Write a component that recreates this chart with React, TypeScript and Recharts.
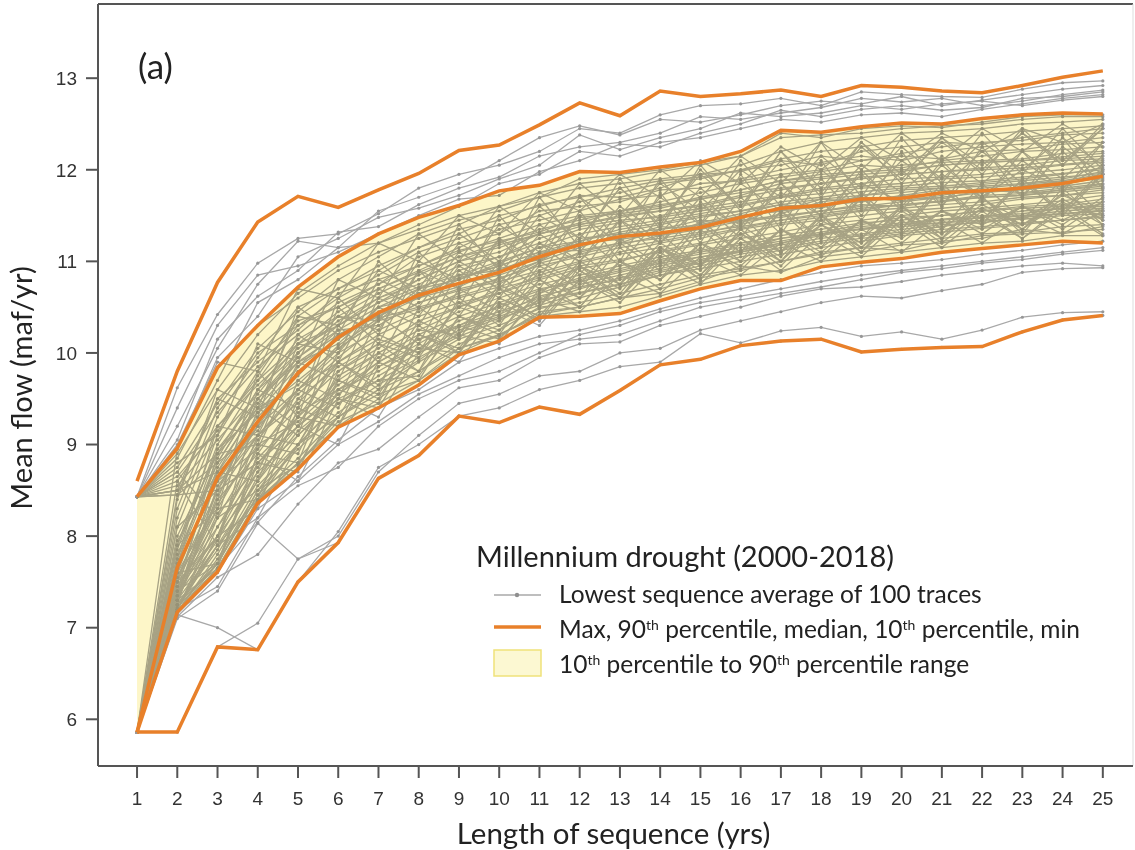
import React from "react";
import {
  ComposedChart,
  Line,
  Area,
  XAxis,
  YAxis,
  ReferenceLine,
  Legend,
} from "recharts";

// length of sequence (yrs)
const years = [1, 2, 3, 4, 5, 6, 7, 8, 9, 10, 11, 12, 13, 14, 15, 16, 17, 18, 19, 20, 21, 22, 23, 24, 25];
const yTicks = [6, 7, 8, 9, 10, 11, 12, 13];

// orange summary lines
const maxLine = [8.6, 9.8, 10.77, 11.43, 11.71, 11.59, 11.78, 11.96, 12.21, 12.27, 12.49, 12.73, 12.59, 12.86, 12.8, 12.83, 12.87, 12.8, 12.92, 12.9, 12.86, 12.84, 12.92, 13.01, 13.08];
const p90Line = [8.43, 8.96, 9.84, 10.3, 10.72, 11.05, 11.3, 11.48, 11.61, 11.77, 11.83, 11.98, 11.97, 12.03, 12.08, 12.2, 12.43, 12.41, 12.47, 12.51, 12.5, 12.56, 12.6, 12.62, 12.61];
const medianLine = [5.86, 7.66, 8.64, 9.25, 9.78, 10.17, 10.44, 10.63, 10.76, 10.88, 11.05, 11.18, 11.27, 11.31, 11.37, 11.48, 11.58, 11.61, 11.68, 11.69, 11.75, 11.77, 11.8, 11.85, 11.93];
const p10Line = [5.86, 7.17, 7.61, 8.36, 8.73, 9.19, 9.4, 9.65, 9.98, 10.13, 10.39, 10.4, 10.43, 10.57, 10.7, 10.79, 10.79, 10.94, 10.99, 11.03, 11.1, 11.14, 11.18, 11.22, 11.2];
const minLine = [5.86, 5.86, 6.79, 6.76, 7.5, 7.93, 8.63, 8.88, 9.31, 9.24, 9.41, 9.33, 9.59, 9.87, 9.93, 10.08, 10.13, 10.15, 10.01, 10.04, 10.06, 10.07, 10.23, 10.36, 10.41];

// lowest sequence average, one row per trace (estimated off the figure)
const traces = [
  [8.43, 9.62, 10.42, 10.98, 11.25, 11.3, 11.52, 11.8, 11.95, 12.05, 12.2, 12.45, 12.4, 12.6, 12.7, 12.72, 12.78, 12.7, 12.85, 12.82, 12.8, 12.79, 12.88, 12.95, 12.97],
  [8.43, 9.2, 10.05, 10.75, 11.22, 11.15, 11.55, 11.7, 11.85, 12.1, 12.35, 12.48, 12.38, 12.55, 12.52, 12.6, 12.7, 12.75, 12.72, 12.8, 12.7, 12.76, 12.82, 12.88, 12.92],
  [8.43, 9.05, 10.15, 10.62, 10.9, 11.32, 11.38, 11.62, 11.8, 11.92, 12.15, 12.25, 12.3, 12.4, 12.58, 12.55, 12.62, 12.68, 12.78, 12.74, 12.78, 12.7, 12.75, 12.82, 12.87],
  [5.86, 8.95, 9.95, 10.4, 11.05, 11.25, 11.48, 11.58, 11.72, 11.9, 12.05, 12.38, 12.22, 12.35, 12.45, 12.62, 12.58, 12.62, 12.7, 12.66, 12.72, 12.75, 12.7, 12.76, 12.8],
  [8.43, 9.4, 10.3, 10.85, 10.95, 11.1, 11.3, 11.5, 11.68, 11.72, 11.98, 12.1, 12.28, 12.25, 12.4, 12.5, 12.65, 12.58, 12.66, 12.7, 12.65, 12.68, 12.78, 12.8, 12.85],
  [8.43, 8.85, 9.7, 10.55, 10.8, 11.15, 11.2, 11.4, 11.6, 11.85, 11.95, 12.2, 12.15, 12.3, 12.35, 12.45, 12.55, 12.52, 12.6, 12.62, 12.58, 12.66, 12.72, 12.78, 12.82],
  [8.43, 8.9, 9.6, 10.2, 10.65, 10.95, 11.2, 11.35, 11.5, 11.6, 11.75, 11.85, 11.9, 11.98, 12.05, 12.15, 12.35, 12.38, 12.4, 12.45, 12.48, 12.5, 12.55, 12.58, 12.58],
  [8.43, 8.75, 9.45, 10.05, 10.45, 10.8, 11.05, 11.3, 11.45, 11.55, 11.7, 11.8, 11.85, 11.9, 11.95, 12.05, 12.2, 12.3, 12.35, 12.4, 12.42, 12.45, 12.5, 12.52, 12.55],
  [5.86, 8.2, 9.3, 9.95, 10.5, 10.7, 10.95, 11.15, 11.3, 11.5, 11.6, 11.72, 11.7, 11.8, 11.95, 11.98, 12.1, 12.05, 12.2, 12.25, 12.3, 12.28, 12.35, 12.4, 12.45],
  [8.43, 8.6, 9.2, 9.7, 10.3, 10.6, 10.85, 11.1, 11.25, 11.4, 11.5, 11.65, 11.75, 11.85, 11.9, 12.0, 12.05, 12.15, 12.1, 12.18, 12.25, 12.3, 12.32, 12.38, 12.4],
  [5.86, 7.9, 9.1, 9.8, 10.35, 10.5, 10.75, 11.05, 11.2, 11.3, 11.55, 11.6, 11.65, 11.78, 11.8, 11.9, 12.0, 12.08, 12.15, 12.1, 12.2, 12.25, 12.28, 12.3, 12.35],
  [5.86, 8.45, 9.5, 9.9, 10.25, 10.65, 10.8, 10.95, 11.15, 11.35, 11.45, 11.55, 11.68, 11.72, 11.85, 11.88, 11.95, 12.0, 12.1, 12.15, 12.12, 12.2, 12.22, 12.28, 12.3],
  [8.43, 8.55, 9.05, 9.55, 10.1, 10.45, 10.7, 10.9, 11.1, 11.25, 11.4, 11.5, 11.55, 11.65, 11.75, 11.85, 11.92, 11.98, 12.05, 12.02, 12.1, 12.15, 12.2, 12.22, 12.25],
  [5.86, 7.75, 8.85, 9.6, 10.15, 10.4, 10.65, 10.85, 11.05, 11.2, 11.35, 11.45, 11.55, 11.6, 11.7, 11.78, 11.88, 11.95, 11.98, 12.05, 12.08, 12.1, 12.12, 12.18, 12.2],
  [5.86, 8.1, 9.2, 9.65, 10.05, 10.3, 10.55, 10.8, 11.0, 11.18, 11.3, 11.4, 11.48, 11.55, 11.62, 11.72, 11.85, 11.9, 11.95, 11.98, 12.05, 12.08, 12.1, 12.12, 12.15],
  [8.43, 8.7, 9.35, 9.85, 10.2, 10.55, 10.75, 10.95, 11.12, 11.22, 11.32, 11.48, 11.52, 11.58, 11.68, 11.75, 11.8, 11.85, 11.92, 11.95, 11.98, 12.02, 12.05, 12.1, 12.12],
  [5.86, 7.6, 8.7, 9.45, 9.95, 10.25, 10.5, 10.7, 10.9, 11.05, 11.2, 11.35, 11.42, 11.5, 11.58, 11.65, 11.72, 11.8, 11.85, 11.9, 11.92, 11.95, 12.0, 12.05, 12.08],
  [5.86, 7.7, 8.95, 9.5, 9.9, 10.2, 10.4, 10.6, 10.8, 10.98, 11.15, 11.3, 11.38, 11.45, 11.52, 11.6, 11.7, 11.78, 11.82, 11.85, 11.9, 11.92, 11.96, 12.0, 12.05],
  [5.86, 7.55, 8.5, 9.35, 9.7, 10.05, 10.35, 10.7, 10.8, 10.95, 11.1, 11.12, 11.2, 11.35, 11.4, 11.45, 11.5, 11.55, 11.6, 11.65, 11.7, 11.75, 11.78, 11.82, 11.88],
  [5.86, 7.8, 8.8, 9.15, 9.85, 10.25, 10.3, 10.55, 10.7, 10.8, 11.0, 11.25, 11.3, 11.28, 11.42, 11.52, 11.62, 11.58, 11.72, 11.75, 11.8, 11.82, 11.85, 11.9, 11.98],
  [5.86, 7.4, 8.3, 9.05, 9.6, 10.0, 10.25, 10.45, 10.65, 10.82, 10.95, 11.05, 11.15, 11.22, 11.3, 11.4, 11.52, 11.65, 11.7, 11.66, 11.72, 11.8, 11.84, 11.88, 11.95],
  [8.43, 8.5, 8.9, 9.4, 9.9, 10.1, 10.5, 10.6, 10.85, 10.9, 11.08, 11.2, 11.25, 11.38, 11.35, 11.5, 11.55, 11.68, 11.65, 11.72, 11.78, 11.75, 11.82, 11.87, 11.9],
  [5.86, 7.95, 8.7, 9.3, 9.75, 10.2, 10.4, 10.65, 10.75, 10.85, 11.0, 11.15, 11.3, 11.35, 11.45, 11.42, 11.6, 11.62, 11.65, 11.7, 11.68, 11.78, 11.75, 11.8, 11.85],
  [5.86, 7.3, 8.45, 9.1, 9.55, 9.95, 10.3, 10.55, 10.68, 10.78, 10.9, 11.1, 11.2, 11.25, 11.32, 11.38, 11.45, 11.52, 11.58, 11.62, 11.65, 11.7, 11.72, 11.76, 11.8],
  [5.86, 7.65, 8.6, 9.2, 9.8, 10.15, 10.45, 10.6, 10.72, 10.92, 11.02, 11.2, 11.24, 11.3, 11.4, 11.5, 11.55, 11.6, 11.66, 11.71, 11.74, 11.76, 11.79, 11.84, 11.92],
  [5.86, 7.5, 8.75, 9.4, 9.65, 10.08, 10.38, 10.5, 10.62, 10.75, 10.98, 11.08, 11.18, 11.28, 11.35, 11.44, 11.48, 11.55, 11.62, 11.6, 11.66, 11.72, 11.74, 11.78, 11.82],
  [5.86, 7.2, 8.1, 8.85, 9.3, 9.7, 10.0, 10.25, 10.45, 10.6, 10.75, 10.85, 10.95, 11.05, 11.12, 11.2, 11.28, 11.35, 11.42, 11.45, 11.5, 11.55, 11.6, 11.62, 11.68],
  [5.86, 7.35, 7.95, 8.7, 9.1, 9.55, 9.85, 10.1, 10.35, 10.5, 10.65, 10.8, 10.9, 11.0, 11.08, 11.15, 11.22, 11.3, 11.38, 11.42, 11.46, 11.5, 11.52, 11.58, 11.62],
  [5.86, 7.17, 7.8, 8.55, 9.0, 9.45, 9.75, 10.0, 10.25, 10.4, 10.55, 10.7, 10.82, 10.92, 11.02, 11.1, 11.18, 11.25, 11.3, 11.35, 11.4, 11.42, 11.48, 11.52, 11.55],
  [5.86, 7.45, 8.2, 8.95, 9.4, 9.8, 10.05, 10.35, 10.5, 10.7, 10.82, 10.95, 11.02, 11.1, 11.18, 11.25, 11.32, 11.4, 11.45, 11.5, 11.55, 11.58, 11.62, 11.66, 11.72],
  [5.86, 7.25, 7.7, 8.45, 8.85, 9.3, 9.6, 9.9, 10.15, 10.3, 10.48, 10.6, 10.72, 10.85, 10.95, 11.05, 11.12, 11.2, 11.25, 11.3, 11.35, 11.38, 11.42, 11.45, 11.48],
  [5.86, 7.6, 8.35, 9.0, 9.25, 9.65, 9.95, 10.2, 10.4, 10.55, 10.7, 10.78, 10.88, 10.98, 11.05, 11.12, 11.2, 11.28, 11.36, 11.4, 11.45, 11.48, 11.55, 11.58, 11.6],
  [5.86, 7.18, 7.65, 8.4, 8.8, 9.2, 9.5, 9.8, 10.05, 10.2, 10.42, 10.5, 10.6, 10.7, 10.82, 10.9, 11.0, 11.08, 11.15, 11.2, 11.25, 11.3, 11.32, 11.38, 11.4],
  [5.86, 7.4, 8.0, 8.6, 9.15, 9.5, 9.7, 9.95, 10.18, 10.35, 10.58, 10.66, 10.75, 10.88, 10.98, 11.08, 11.15, 11.22, 11.28, 11.32, 11.38, 11.44, 11.46, 11.5, 11.52],
  [8.43, 8.45, 8.5, 8.8, 9.2, 9.55, 9.9, 10.15, 10.3, 10.45, 10.6, 10.75, 10.85, 10.95, 11.05, 11.1, 11.2, 11.3, 11.35, 11.4, 11.42, 11.48, 11.5, 11.55, 11.58],
  [5.86, 7.3, 8.25, 8.75, 9.35, 9.6, 9.9, 10.15, 10.28, 10.42, 10.62, 10.72, 10.8, 10.9, 11.0, 11.12, 11.25, 11.32, 11.4, 11.48, 11.5, 11.55, 11.58, 11.6, 11.65],
  [5.86, 5.86, 6.79, 7.05, 7.75, 7.93, 8.63, 8.88, 9.31, 9.4, 9.6, 9.7, 9.85, 9.9, 10.21, 10.11, 10.24, 10.28, 10.18, 10.23, 10.15, 10.25, 10.39, 10.44, 10.45],
  [5.86, 7.14, 7.0, 6.76, 7.5, 8.05, 8.75, 9.0, 9.31, 9.24, 9.41, 9.33, 9.59, 9.87, 9.93, 10.08, 10.13, 10.15, 10.01, 10.04, 10.06, 10.07, 10.23, 10.36, 10.41],
  [5.86, 7.1, 7.4, 8.14, 7.75, 8.0, 8.7, 9.1, 9.45, 9.55, 9.75, 9.8, 10.0, 10.05, 10.25, 10.35, 10.45, 10.55, 10.62, 10.6, 10.68, 10.75, 10.88, 10.92, 10.93],
  [5.86, 7.12, 7.55, 7.8, 8.35, 8.8, 8.95, 9.3, 9.62, 9.7, 9.95, 10.1, 10.12, 10.3, 10.4, 10.5, 10.62, 10.7, 10.72, 10.78, 10.85, 10.9, 10.95, 10.98, 10.95],
  [5.86, 7.2, 7.45, 8.2, 8.55, 8.75, 9.2, 9.5, 9.7, 9.8, 10.0, 10.2, 10.3, 10.45, 10.55, 10.62, 10.7, 10.78, 10.85, 10.9, 10.95, 11.0, 11.05, 11.1, 11.15],
  [5.86, 7.15, 7.6, 8.3, 8.6, 9.0, 9.25, 9.55, 9.75, 9.95, 10.1, 10.15, 10.2, 10.35, 10.5, 10.58, 10.65, 10.72, 10.8, 10.88, 10.92, 10.98, 11.02, 11.08, 11.12],
  [5.86, 7.17, 7.65, 8.15, 8.65, 9.05, 9.4, 9.6, 9.9, 10.05, 10.18, 10.25, 10.35, 10.48, 10.6, 10.7, 10.8, 10.88, 10.95, 10.98, 11.02, 11.08, 11.12, 11.18, 11.22],
  [5.86, 8.0, 8.9, 9.6, 10.0, 10.35, 10.6, 10.8, 11.0, 11.1, 11.3, 11.4, 11.5, 11.55, 11.6, 11.7, 11.78, 11.85, 11.9, 11.95, 11.98, 12.0, 12.02, 12.06, 12.1],
  [5.86, 7.25, 8.55, 9.1, 9.45, 9.9, 10.2, 10.4, 10.55, 10.65, 10.8, 10.92, 11.0, 11.12, 11.2, 11.3, 11.4, 11.45, 11.5, 11.55, 11.58, 11.62, 11.68, 11.72, 11.75],
  [5.86, 7.85, 9.0, 9.7, 10.1, 10.3, 10.6, 10.75, 10.95, 11.05, 11.25, 11.38, 11.45, 11.48, 11.55, 11.62, 11.7, 11.74, 11.8, 11.82, 11.86, 11.88, 11.92, 11.96, 12.0],
  [8.43, 8.65, 9.15, 9.75, 10.4, 10.7, 10.9, 11.15, 11.35, 11.45, 11.62, 11.7, 11.8, 11.88, 11.92, 12.0, 12.12, 12.2, 12.25, 12.32, 12.35, 12.38, 12.42, 12.45, 12.48],
  [5.86, 7.5, 8.4, 8.9, 9.5, 9.85, 10.1, 10.3, 10.5, 10.65, 10.85, 10.98, 11.08, 11.15, 11.25, 11.35, 11.42, 11.48, 11.55, 11.58, 11.62, 11.65, 11.7, 11.72, 11.78],
  [5.86, 7.2, 8.0, 8.8, 9.2, 9.6, 9.8, 10.05, 10.3, 10.52, 10.68, 10.82, 10.92, 11.02, 11.1, 11.18, 11.25, 11.3, 11.35, 11.38, 11.42, 11.45, 11.5, 11.52, 11.56],
  [5.86, 7.7, 8.8, 9.5, 9.95, 10.3, 10.55, 10.72, 10.85, 11.0, 11.15, 11.22, 11.35, 11.42, 11.5, 11.55, 11.65, 11.7, 11.76, 11.8, 11.82, 11.86, 11.9, 11.95, 12.02],
  [8.43, 8.96, 9.84, 10.3, 10.6, 10.9, 11.1, 11.25, 11.4, 11.6, 11.7, 11.9, 11.95, 12.0, 12.08, 12.15, 12.4, 12.35, 12.45, 12.48, 12.46, 12.52, 12.58, 12.6, 12.6],
  [5.86, 7.35, 8.65, 9.2, 9.6, 10.05, 10.35, 10.48, 10.6, 10.72, 10.88, 11.0, 11.1, 11.2, 11.28, 11.36, 11.45, 11.5, 11.56, 11.62, 11.66, 11.7, 11.72, 11.78, 11.84],
  [5.86, 7.18, 7.75, 8.5, 8.95, 9.35, 9.65, 9.92, 10.22, 10.38, 10.52, 10.65, 10.75, 10.85, 10.92, 11.0, 11.08, 11.15, 11.22, 11.28, 11.32, 11.36, 11.4, 11.45, 11.5],
  [5.86, 8.3, 9.4, 10.0, 10.3, 10.5, 10.7, 10.88, 11.05, 11.15, 11.3, 11.42, 11.55, 11.62, 11.68, 11.78, 11.88, 11.92, 11.98, 12.0, 12.05, 12.08, 12.1, 12.14, 12.18],
  [5.86, 7.9, 8.95, 9.35, 9.85, 10.15, 10.42, 10.65, 10.82, 10.95, 11.1, 11.22, 11.32, 11.4, 11.48, 11.55, 11.62, 11.68, 11.72, 11.78, 11.8, 11.84, 11.88, 11.92, 11.96],
  [5.86, 7.4, 8.9, 9.0, 10.1, 10.0, 10.8, 10.6, 11.2, 10.95, 11.5, 11.25, 11.8, 11.4, 12.0, 11.6, 12.2, 11.8, 12.3, 11.95, 12.35, 12.05, 12.4, 12.1, 12.45],
  [8.43, 8.7, 8.2, 9.6, 9.4, 10.6, 10.2, 11.1, 10.7, 11.5, 11.0, 11.7, 11.2, 11.9, 11.4, 12.1, 11.6, 12.3, 11.7, 12.35, 11.85, 12.4, 11.95, 12.45, 12.0],
  [5.86, 8.6, 7.9, 9.4, 9.1, 10.3, 9.9, 10.7, 10.4, 11.0, 10.7, 11.3, 10.95, 11.5, 11.1, 11.7, 11.3, 11.9, 11.45, 12.0, 11.6, 12.1, 11.7, 12.2, 11.8],
  [5.86, 7.3, 8.7, 8.6, 9.7, 9.5, 10.4, 10.1, 10.9, 10.6, 11.2, 10.85, 11.45, 11.05, 11.65, 11.25, 11.85, 11.4, 12.0, 11.55, 12.1, 11.65, 12.2, 11.75, 12.3],
  [5.86, 7.9, 8.3, 9.8, 9.3, 10.5, 10.1, 10.9, 10.5, 11.25, 10.8, 11.55, 11.0, 11.75, 11.2, 11.95, 11.35, 12.1, 11.5, 12.2, 11.6, 12.25, 11.7, 12.35, 11.8],
  [5.86, 7.2, 8.0, 8.3, 9.4, 9.2, 10.1, 9.8, 10.6, 10.3, 10.9, 10.6, 11.15, 10.8, 11.35, 11.0, 11.55, 11.15, 11.7, 11.3, 11.8, 11.4, 11.9, 11.5, 11.95],
  [8.43, 8.5, 9.5, 9.3, 10.5, 10.2, 11.0, 10.6, 11.4, 10.9, 11.7, 11.15, 11.9, 11.35, 12.05, 11.55, 12.2, 11.7, 12.3, 11.85, 12.35, 11.95, 12.45, 12.05, 12.5],
  [5.86, 7.6, 7.7, 8.9, 8.8, 9.9, 9.6, 10.5, 10.2, 10.85, 10.5, 11.1, 10.75, 11.3, 10.95, 11.5, 11.1, 11.65, 11.25, 11.75, 11.35, 11.85, 11.45, 11.9, 11.5],
  [5.86, 8.4, 9.6, 9.4, 10.4, 10.3, 10.9, 10.7, 11.3, 11.0, 11.6, 11.25, 11.8, 11.45, 11.95, 11.6, 12.1, 11.75, 12.25, 11.9, 12.3, 12.0, 12.4, 12.05, 12.45],
  [5.86, 7.17, 7.62, 8.4, 8.75, 9.6, 9.45, 10.3, 10.0, 10.7, 10.35, 10.95, 10.6, 11.15, 10.8, 11.35, 11.0, 11.5, 11.1, 11.6, 11.25, 11.7, 11.3, 11.8, 11.4],
  [5.86, 7.75, 9.2, 9.1, 10.0, 10.4, 10.35, 11.0, 10.8, 11.4, 11.1, 11.7, 11.4, 11.85, 11.55, 12.0, 11.7, 12.15, 11.8, 12.25, 11.9, 12.3, 12.0, 12.35, 12.05],
  [5.86, 7.3, 8.4, 9.5, 9.2, 10.0, 10.5, 10.3, 10.95, 10.7, 11.2, 11.0, 11.45, 11.2, 11.6, 11.4, 11.75, 11.5, 11.85, 11.65, 11.95, 11.7, 12.0, 11.8, 12.05],
  [8.43, 8.8, 9.1, 10.1, 9.9, 10.8, 10.6, 11.3, 11.0, 11.6, 11.3, 11.85, 11.5, 12.0, 11.7, 12.15, 11.85, 12.3, 12.0, 12.4, 12.1, 12.45, 12.2, 12.5, 12.25],
  [5.86, 7.45, 8.1, 8.7, 9.6, 9.4, 10.2, 10.0, 10.7, 10.45, 11.0, 10.75, 11.25, 10.95, 11.45, 11.1, 11.6, 11.25, 11.75, 11.35, 11.85, 11.45, 11.9, 11.55, 12.0],
  [5.86, 8.1, 8.5, 9.2, 10.2, 9.9, 10.7, 10.5, 11.1, 10.85, 11.4, 11.1, 11.6, 11.3, 11.8, 11.45, 11.95, 11.6, 12.05, 11.75, 12.15, 11.85, 12.2, 11.9, 12.3],
  [5.86, 7.5, 8.0, 9.0, 8.9, 9.8, 10.1, 9.95, 10.55, 10.4, 10.95, 10.7, 11.2, 10.9, 11.4, 11.1, 11.55, 11.25, 11.7, 11.35, 11.8, 11.45, 11.85, 11.55, 11.95],
  [8.43, 8.45, 8.8, 9.5, 10.0, 10.4, 10.25, 10.9, 10.7, 11.25, 11.0, 11.5, 11.2, 11.7, 11.4, 11.85, 11.55, 12.0, 11.65, 12.1, 11.8, 12.2, 11.85, 12.25, 11.95],
  [5.86, 7.65, 8.6, 8.95, 9.9, 9.7, 10.6, 10.4, 11.0, 10.75, 11.3, 11.0, 11.55, 11.2, 11.7, 11.35, 11.85, 11.5, 11.95, 11.6, 12.05, 11.7, 12.1, 11.8, 12.15],
  [5.86, 7.25, 7.9, 8.2, 9.0, 9.7, 9.55, 10.2, 10.05, 10.6, 10.4, 10.9, 10.65, 11.15, 10.85, 11.35, 11.0, 11.5, 11.15, 11.6, 11.25, 11.7, 11.35, 11.75, 11.45],
  [8.43, 9.0, 9.9, 9.8, 10.7, 10.6, 11.2, 11.0, 11.5, 11.3, 11.75, 11.55, 11.95, 11.7, 12.1, 11.85, 12.25, 12.0, 12.35, 12.1, 12.4, 12.2, 12.45, 12.3, 12.5],
  [5.86, 7.2, 7.9, 8.6, 9.3, 9.2, 9.9, 9.7, 10.4, 10.2, 10.8, 10.5, 11.0, 10.7, 11.2, 10.9, 11.35, 11.05, 11.45, 11.2, 11.55, 11.3, 11.6, 11.35, 11.65],
  [5.86, 7.4, 7.7, 8.8, 8.7, 9.7, 9.5, 10.2, 10.0, 10.6, 10.4, 10.9, 10.6, 11.1, 10.8, 11.25, 10.95, 11.4, 11.1, 11.5, 11.2, 11.55, 11.25, 11.6, 11.3],
  [5.86, 7.18, 8.2, 8.5, 9.1, 9.5, 9.4, 10.1, 9.9, 10.5, 10.3, 10.8, 10.55, 11.0, 10.75, 11.2, 10.9, 11.3, 11.05, 11.45, 11.15, 11.5, 11.25, 11.55, 11.28],
  [5.86, 7.3, 7.65, 8.9, 8.6, 9.5, 9.3, 10.0, 10.2, 10.1, 10.7, 10.5, 11.0, 10.8, 11.15, 10.95, 11.35, 11.1, 11.45, 11.25, 11.55, 11.35, 11.6, 11.4, 11.7],
  [5.86, 7.55, 8.3, 8.4, 9.5, 9.3, 10.0, 9.8, 10.4, 10.25, 10.65, 10.95, 10.7, 11.15, 10.9, 11.3, 11.05, 11.45, 11.2, 11.55, 11.3, 11.62, 11.4, 11.68, 11.45],
  [5.86, 7.17, 7.7, 8.45, 9.0, 9.45, 9.7, 9.75, 10.3, 10.15, 10.6, 10.45, 10.85, 10.65, 11.05, 10.85, 11.2, 11.0, 11.35, 11.1, 11.45, 11.2, 11.5, 11.3, 11.55],
  [5.86, 7.35, 8.5, 8.8, 9.3, 9.9, 9.65, 10.35, 10.15, 10.75, 10.5, 11.0, 10.75, 11.2, 10.95, 11.4, 11.1, 11.5, 11.25, 11.6, 11.35, 11.68, 11.45, 11.72, 11.55],
  [5.86, 7.25, 7.85, 8.65, 9.2, 9.0, 9.85, 10.05, 10.0, 10.55, 10.35, 10.8, 10.6, 11.05, 10.85, 11.25, 11.0, 11.4, 11.15, 11.5, 11.25, 11.58, 11.35, 11.65, 11.4],
  [8.43, 8.5, 8.7, 9.1, 9.6, 9.9, 10.15, 10.0, 10.5, 10.35, 10.8, 10.6, 11.0, 10.8, 11.2, 11.0, 11.35, 11.15, 11.45, 11.3, 11.55, 11.4, 11.6, 11.45, 11.65],
  [5.86, 7.45, 8.0, 9.1, 9.0, 9.75, 10.0, 10.25, 10.2, 10.7, 10.55, 10.95, 10.75, 11.15, 10.95, 11.3, 11.1, 11.4, 11.2, 11.5, 11.3, 11.58, 11.4, 11.62, 11.5],
  [5.86, 7.17, 7.65, 8.38, 8.8, 9.25, 9.45, 9.7, 10.0, 10.2, 10.4, 10.45, 10.5, 10.62, 10.75, 10.85, 10.9, 11.0, 11.05, 11.1, 11.15, 11.2, 11.22, 11.28, 11.28],
  [5.86, 7.22, 7.7, 8.5, 8.78, 9.3, 9.55, 9.7, 10.05, 10.18, 10.45, 10.5, 10.6, 10.65, 10.78, 10.95, 10.88, 11.05, 11.1, 11.18, 11.2, 11.28, 11.3, 11.32, 11.35],
  [5.86, 7.3, 7.9, 8.4, 9.0, 9.3, 9.6, 9.8, 10.1, 10.25, 10.5, 10.55, 10.65, 10.75, 10.85, 10.92, 11.0, 11.1, 11.15, 11.12, 11.22, 11.25, 11.35, 11.3, 11.38],
];

const rows = years.map((yr, i) => {
  const row: any = {
    x: yr,
    max: maxLine[i],
    p90: p90Line[i],
    med: medianLine[i],
    p10: p10Line[i],
    min: minLine[i],
    band: [p10Line[i], p90Line[i]],
  };
  traces.forEach((t, k) => {
    row["t" + k] = t[i];
  });
  return row;
});

const ORANGE = "#e8802a";
const GRAY = "#a8a8a8";
const AXIS = "#555555";
const sansLike = "Lato, 'Open Sans', sans-serif";
const W = 1135;
const H = 850;
const MARGIN = { top: 4, right: 2, left: 0, bottom: 0 };
const X_DOMAIN: [number, number] = [0.03, 25.75];
const Y_DOMAIN: [number, number] = [5.49, 13.81];

const layer: React.CSSProperties = { position: "absolute", left: 0, top: 0 };

const Sup = ({ children }: { children: React.ReactNode }) => (
  <tspan baselineShift="super" fontSize={14}>{children}</tspan>
);

// legend drawn inside the plot area, like the original
const LegendBox = () => (
  <svg width={680} height={150} style={{ fontFamily: sansLike, fill: "#222", display: "block" }}>
    <text x={16} y={32} fontSize={29}>Millennium drought (2000-2018)</text>
    <line x1={34} y1={60} x2={81} y2={60} stroke={GRAY} strokeWidth={1.5} />
    <circle cx={57} cy={60} r={2.2} fill="#8f8f8f" />
    <text x={99} y={68} fontSize={24.5}>Lowest sequence average of 100 traces</text>
    <line x1={34} y1={92} x2={81} y2={92} stroke={ORANGE} strokeWidth={3.5} />
    <text x={99} y={103} fontSize={24.5}>
      Max, 90<Sup>th</Sup> percentile, median, 10<Sup>th</Sup> percentile, min
    </text>
    <rect x={34} y={115} width={47} height={26} fill="#fcf8d2" stroke="#efe27a" strokeWidth={1.5} />
    <text x={99} y={138} fontSize={24.5}>
      10<Sup>th</Sup> percentile to 90<Sup>th</Sup> percentile range
    </text>
  </svg>
);

const App = () => {
  return (
    <div style={{ position: "absolute", left: 0, top: 0, width: W, height: H, background: "#fff", overflow: "hidden" }}>
      {/* base layer: axes, frame and the gray traces */}
      <div style={layer}>
        <ComposedChart width={W} height={H} data={rows} margin={MARGIN}>
          <XAxis
            dataKey="x"
            type="number"
            domain={X_DOMAIN}
            ticks={years}
            allowDataOverflow
            height={84}
            tickSize={12}
            tickMargin={14}
            stroke={AXIS}
            strokeWidth={2}
            tick={{ fill: "#333", fontSize: 19, fontFamily: "'Liberation Sans', Arial, sans-serif" }}
            label={{
              value: "Length of sequence (yrs)",
              position: "center",
              dx: -2,
              dy: 26,
              style: { fontSize: 29.5, fontFamily: sansLike, fill: "#222" },
            }}
          />
          <YAxis
            type="number"
            domain={Y_DOMAIN}
            ticks={yTicks}
            allowDataOverflow
            width={98}
            tickSize={12}
            tickMargin={9}
            stroke={AXIS}
            strokeWidth={2}
            tick={{ fill: "#333", fontSize: 19, fontFamily: "'Liberation Sans', Arial, sans-serif" }}
            label={{
              value: "Mean flow (maf/yr)",
              angle: -90,
              position: "center",
              dx: -27,
              dy: 3,
              style: { fontSize: 29, fontFamily: sansLike, fill: "#222" },
            }}
          />
          <ReferenceLine y={Y_DOMAIN[1]} stroke={AXIS} strokeWidth={2} />
          <ReferenceLine x={X_DOMAIN[1]} stroke="#dddddd" strokeWidth={1} />
          {traces.map((_, k) => (
            <Line
              key={k}
              dataKey={"t" + k}
              type="linear"
              stroke={GRAY}
              strokeWidth={1.3}
              dot={{ r: 1.6, fill: "#979797", stroke: "none" }}
              activeDot={false}
              isAnimationActive={false}
              legendType="none"
            />
          ))}
        </ComposedChart>
      </div>

      {/* 10th-90th band, multiplied over the traces */}
      <div style={{ ...layer, mixBlendMode: "multiply" }}>
        <ComposedChart width={W} height={H} data={rows} margin={MARGIN}>
          <XAxis dataKey="x" type="number" domain={X_DOMAIN} allowDataOverflow height={84} axisLine={false} tickLine={false} tick={false} />
          <YAxis type="number" domain={Y_DOMAIN} allowDataOverflow width={98} axisLine={false} tickLine={false} tick={false} />
          <Area
            dataKey="band"
            type="linear"
            fill="#fdf6c8"
            fillOpacity={1}
            stroke="none"
            isAnimationActive={false}
            legendType="none"
          />
        </ComposedChart>
      </div>

      {/* orange summary lines and legend */}
      <div style={layer}>
        <ComposedChart width={W} height={H} data={rows} margin={MARGIN}>
          <XAxis dataKey="x" type="number" domain={X_DOMAIN} allowDataOverflow height={84} axisLine={false} tickLine={false} tick={false} />
          <YAxis type="number" domain={Y_DOMAIN} allowDataOverflow width={98} axisLine={false} tickLine={false} tick={false} />
          {["max", "p90", "med", "p10", "min"].map((k) => (
            <Line
              key={k}
              dataKey={k}
              type="linear"
              stroke={ORANGE}
              strokeWidth={3.5}
              dot={false}
              activeDot={false}
              isAnimationActive={false}
              legendType="none"
            />
          ))}
          <Legend
            layout="vertical"
            align="center"
            verticalAlign="middle"
            content={() => <LegendBox />}
            wrapperStyle={{ position: "absolute", left: 460, top: 535, width: 680, height: 150 }}
          />
        </ComposedChart>
      </div>

      <div
        style={{
          position: "absolute",
          left: 138,
          top: 44,
          fontSize: 35,
          lineHeight: "42px",
          fontFamily: sansLike,
          color: "#222",
        }}
      >
        (a)
      </div>
    </div>
  );
};

export default App;
